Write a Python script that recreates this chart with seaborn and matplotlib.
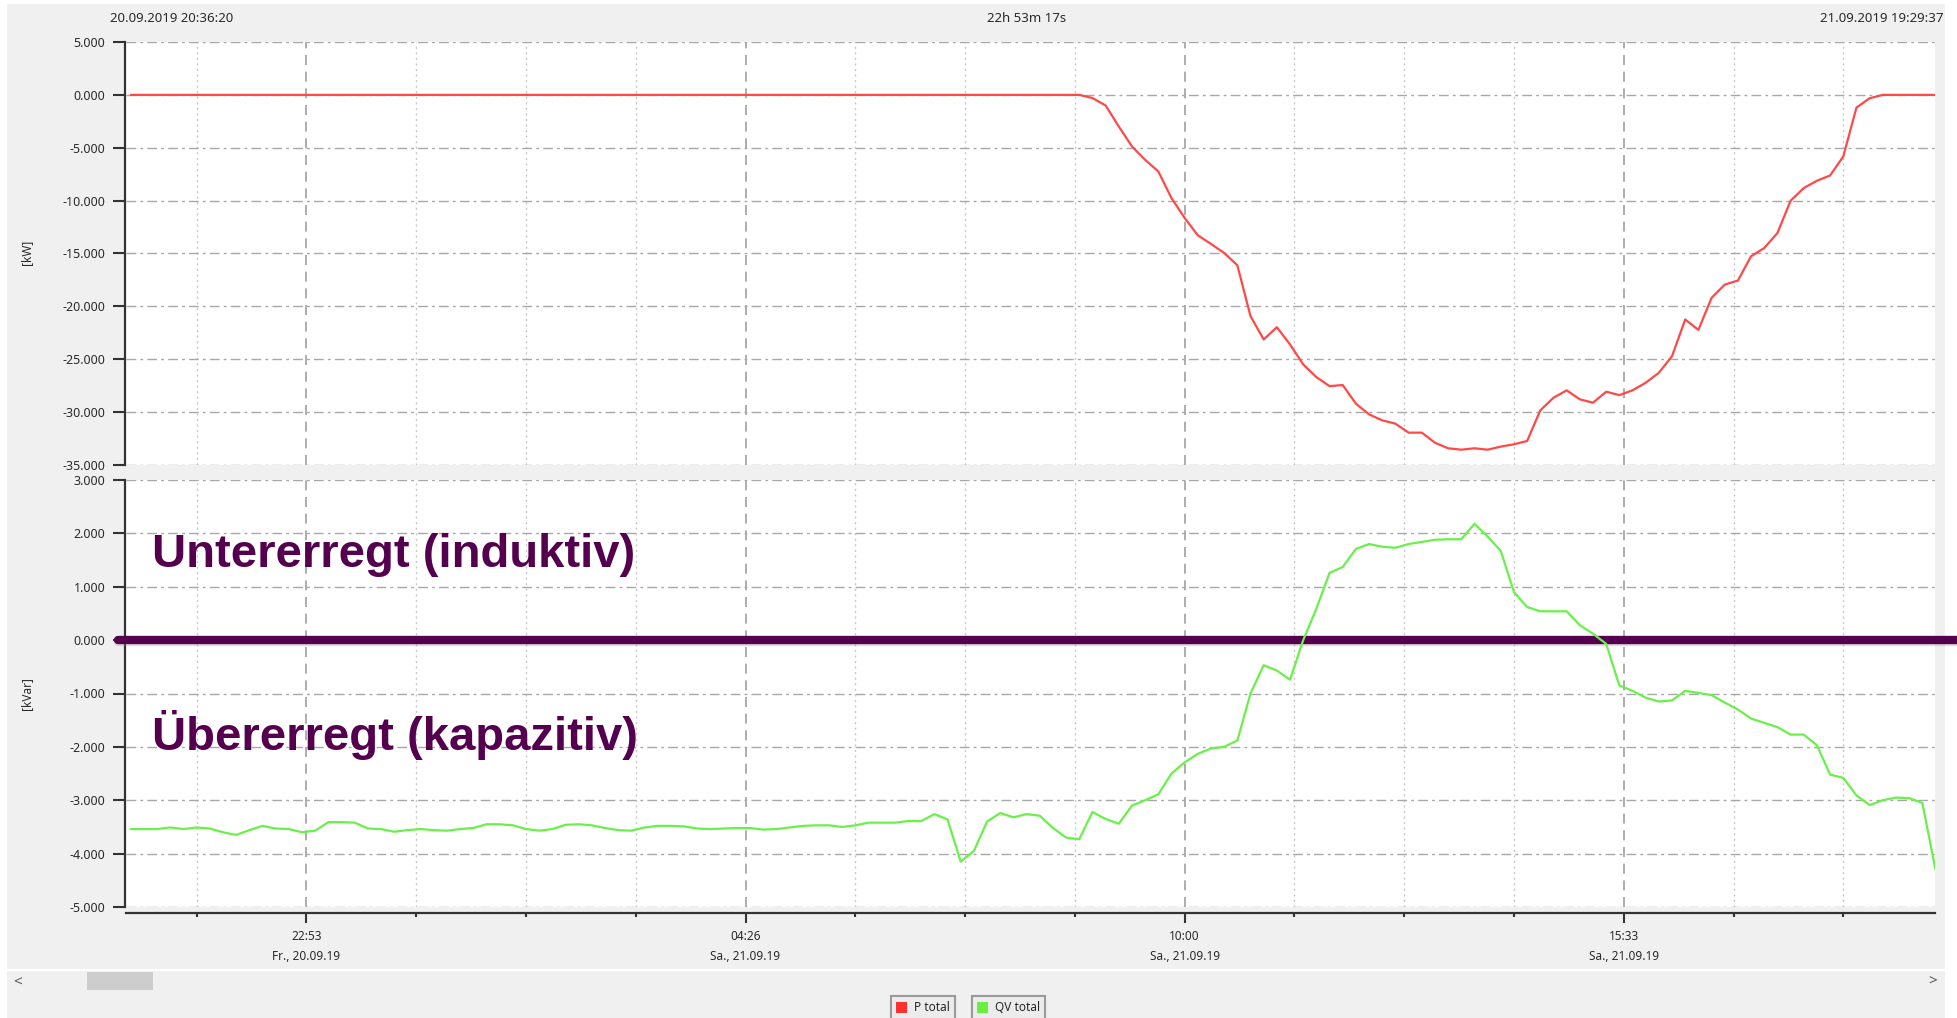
import matplotlib
matplotlib.use("Agg")
import matplotlib.pyplot as plt
import matplotlib.dates as mdates
import matplotlib.patheffects as pe
from matplotlib.patches import Patch, Rectangle
from matplotlib.ticker import FuncFormatter
import pandas as pd
import seaborn as sns

# 10-minute samples from 20:40 (Fr.) to 19:30 (Sa.)
times = pd.date_range("2019-09-20 20:40", periods=138, freq="10min")

# active power P total [kW]
p_total = [
    0.0, 0.0, 0.0, 0.0, 0.0, 0.0, 0.0, 0.0, 0.0, 0.0,
    0.0, 0.0, 0.0, 0.0, 0.0, 0.0, 0.0, 0.0, 0.0, 0.0,
    0.0, 0.0, 0.0, 0.0, 0.0, 0.0, 0.0, 0.0, 0.0, 0.0,
    0.0, 0.0, 0.0, 0.0, 0.0, 0.0, 0.0, 0.0, 0.0, 0.0,
    0.0, 0.0, 0.0, 0.0, 0.0, 0.0, 0.0, 0.0, 0.0, 0.0,
    0.0, 0.0, 0.0, 0.0, 0.0, 0.0, 0.0, 0.0, 0.0, 0.0,
    0.0, 0.0, 0.0, 0.0, 0.0, 0.0, 0.0, 0.0, 0.0, 0.0,
    0.0, 0.0, 0.0, -0.30, -1.00, -2.99, -4.88, -6.14, -7.24, -9.76,
    -11.64, -13.28, -14.10, -14.95, -16.11, -20.93, -23.13, -21.97, -23.60, -25.49,
    -26.69, -27.54, -27.44, -29.20, -30.21, -30.78, -31.09, -31.94, -31.94, -32.89,
    -33.42, -33.55, -33.42, -33.55, -33.26, -33.04, -32.73, -29.83, -28.64, -27.94,
    -28.79, -29.11, -28.07, -28.39, -27.94, -27.22, -26.28, -24.70, -21.24, -22.22,
    -19.20, -17.94, -17.56, -15.26, -14.48, -13.06, -10.01, -8.81, -8.12, -7.62,
    -5.82, -1.20, -0.32, 0.0, 0.0, 0.0, 0.0, 0.0,
]

# reactive power QV total [kVar]
qv_total = [
    -3.54, -3.54, -3.54, -3.51, -3.54, -3.51, -3.53, -3.60, -3.65, -3.56,
    -3.48, -3.53, -3.54, -3.60, -3.57, -3.41, -3.41, -3.42, -3.53, -3.54,
    -3.59, -3.56, -3.54, -3.56, -3.57, -3.54, -3.52, -3.45, -3.45, -3.47,
    -3.54, -3.57, -3.54, -3.46, -3.45, -3.47, -3.52, -3.56, -3.57, -3.51,
    -3.48, -3.48, -3.49, -3.53, -3.54, -3.53, -3.52, -3.52, -3.55, -3.54,
    -3.51, -3.48, -3.47, -3.47, -3.50, -3.47, -3.42, -3.42, -3.42, -3.39,
    -3.39, -3.26, -3.36, -4.15, -3.95, -3.40, -3.24, -3.32, -3.26, -3.29,
    -3.52, -3.70, -3.73, -3.22, -3.35, -3.44, -3.10, -3.00, -2.89, -2.50,
    -2.29, -2.13, -2.03, -2.00, -1.88, -1.00, -0.47, -0.57, -0.74, 0.00,
    0.59, 1.26, 1.37, 1.71, 1.80, 1.75, 1.73, 1.80, 1.84, 1.88,
    1.89, 1.89, 2.18, 1.94, 1.67, 0.90, 0.62, 0.54, 0.54, 0.54,
    0.28, 0.12, -0.07, -0.85, -0.95, -1.08, -1.15, -1.13, -0.95, -0.99,
    -1.03, -1.17, -1.30, -1.47, -1.55, -1.63, -1.77, -1.77, -1.97, -2.52,
    -2.58, -2.91, -3.09, -3.00, -2.95, -2.96, -3.05, -4.30,
]

t_start = "2019-09-20 20:36:20"
t_end = "2019-09-21 19:29:37"
major_times = ["2019-09-20 22:53:20", "2019-09-21 04:26:40",
               "2019-09-21 10:00:00", "2019-09-21 15:33:20"]
major_labels = ["22:53\nFr., 20.09.19", "04:26\nSa., 21.09.19",
                "10:00\nSa., 21.09.19", "15:33\nSa., 21.09.19"]
minor_times = ["2019-09-20 21:30:00", "2019-09-21 00:16:40", "2019-09-21 01:40:00",
               "2019-09-21 03:03:20", "2019-09-21 05:50:00", "2019-09-21 07:13:20",
               "2019-09-21 08:36:40", "2019-09-21 11:23:20", "2019-09-21 12:46:40",
               "2019-09-21 14:10:00", "2019-09-21 16:56:40", "2019-09-21 18:20:00"]
p_ticks = [5, 0, -5, -10, -15, -20, -25, -30, -35]
q_ticks = [3, 2, 1, 0, -1, -2, -3, -4, -5]

df = pd.DataFrame({"time": times, "P total": p_total, "QV total": qv_total})

sns.set_theme(style="white")
plt.rcParams["font.family"] = ["Noto Sans", "DejaVu Sans"]

W, H = 1957, 1018
fig = plt.figure(figsize=(W / 100, H / 100), dpi=100, facecolor="white")
fig.patches.append(Rectangle((7 / W, 0), 1938 / W, 1014 / H, transform=fig.transFigure,
                             facecolor="#f0f0f0", edgecolor="none", zorder=-10))

ax1 = fig.add_axes([126 / W, 1 - 465 / H, 1809 / W, 423 / H])
ax2 = fig.add_axes([126 / W, 1 - 907 / H, 1809 / W, 427 / H])

sns.lineplot(data=df, x="time", y="P total", ax=ax1, color="#ff4848", linewidth=1.6, zorder=4)
sns.lineplot(data=df, x="time", y="QV total", ax=ax2, color="#6af04a", linewidth=1.6, zorder=4)

tick_col = "#333333"
for ax, ticks in ((ax1, p_ticks), (ax2, q_ticks)):
    ax.set_facecolor("white")
    ax.set_xlim(pd.Timestamp(t_start), pd.Timestamp(t_end))
    ax.set_ylim(min(ticks), max(ticks))
    ax.set_yticks(ticks)
    ax.yaxis.set_major_formatter(FuncFormatter(lambda v, _: f"{v:.3f}"))
    ax.set_xticks(mdates.date2num(pd.to_datetime(major_times)))
    ax.set_xticks(mdates.date2num(pd.to_datetime(minor_times)), minor=True)
    ax.set_xlabel("")
    ax.set_ylabel("")
    ax.set_axisbelow(True)
    ax.grid(axis="y", which="major", linestyle=(0, (7, 3, 2, 3)), color="#a8a8a8", linewidth=1)
    ax.grid(axis="x", which="major", linestyle=(0, (6, 4)), color="#a0a0a0", linewidth=1.2)
    ax.grid(axis="x", which="minor", linestyle=(0, (1.5, 2.5)), color="#c8c8c8", linewidth=1)
    for s in ("top", "right", "bottom"):
        ax.spines[s].set_visible(False)
    ax.spines["left"].set_color(tick_col)
    ax.spines["left"].set_linewidth(1.6)
    ax.spines["left"].set_position(("outward", 1))
    ax.tick_params(axis="y", direction="out", length=9, width=1.5, color=tick_col,
                   labelsize=9, labelcolor="#2a2a2a", pad=5, left=True)

ax1.set_xticklabels([])
ax1.tick_params(axis="x", which="both", length=0, labelbottom=False)

ax2.spines["bottom"].set_visible(True)
ax2.spines["bottom"].set_color(tick_col)
ax2.spines["bottom"].set_linewidth(1.6)
ax2.spines["bottom"].set_position(("outward", 4))
ax2.set_xticklabels(major_labels)
ax2.tick_params(axis="x", which="major", direction="out", length=7.5, width=1.5,
                color=tick_col, labelsize=8.5, labelcolor="#2a2a2a", pad=5, bottom=True)
ax2.tick_params(axis="x", which="minor", direction="out", length=3, width=1.5,
                color=tick_col, bottom=True)
plt.setp(ax2.get_xticklabels(), linespacing=1.7)

# boundary between under- and over-excited operation
purple = "#55004f"
ax2.axhline(0, xmin=-8 / 1809, xmax=1831 / 1809, color=purple, linewidth=6, clip_on=False,
            zorder=3, path_effects=[pe.SimpleLineShadow(offset=(0, -1.5), shadow_color="#909090",
                                                        alpha=0.3), pe.Normal()])
ax2.text(0.0144, 0.796, "Untererregt (induktiv)", transform=ax2.transAxes, va="baseline",
         ha="left", fontsize=34, fontweight="bold", color=purple, family="Liberation Sans")
ax2.text(0.0144, 0.368, "Übererregt (kapazitiv)", transform=ax2.transAxes, va="baseline",
         ha="left", fontsize=34, fontweight="bold", color=purple, family="Liberation Sans")

# header and axis units
fig.text(110 / W, 1 - 19 / H, "20.09.2019 20:36:20", fontsize=9.5, color="#2a2a2a", va="center")
fig.text(1027 / W, 1 - 19 / H, "22h 53m 17s", fontsize=9.5, color="#2a2a2a", va="center", ha="center")
fig.text(1943 / W, 1 - 19 / H, "21.09.2019 19:29:37", fontsize=9.5, color="#2a2a2a", va="center", ha="right")
fig.text(27 / W, 1 - 252 / H, "[kW]", fontsize=8.5, rotation=90, va="center", ha="center", color="#2a2a2a")
fig.text(27 / W, 1 - 694 / H, "[kVar]", fontsize=8.5, rotation=90, va="center", ha="center", color="#2a2a2a")

# scroll bar
fig.add_artist(plt.Line2D([7 / W, 1945 / W], [1 - 970 / H, 1 - 970 / H], color="white", linewidth=1.5))
fig.patches.append(Rectangle((87 / W, 1 - 990 / H), 66 / W, 18 / H, transform=fig.transFigure,
                             facecolor="#cdcdcd", edgecolor="none"))
fig.text(18 / W, 1 - 983 / H, "<", fontsize=11, fontweight="bold", color="#555555", va="center", ha="center")
fig.text(1933 / W, 1 - 982 / H, ">", fontsize=11, fontweight="bold", color="#555555", va="center", ha="center")

# legend boxes
for x0, label, col in ((891, "P total", "#ff3030"), (972, "QV total", "#66f040")):
    leg = fig.legend(handles=[Patch(facecolor=col, edgecolor="none", label=label)],
                     loc="upper left", bbox_to_anchor=(x0 / W, 1 - 996 / H), fontsize=8.5,
                     frameon=True, fancybox=False, edgecolor="#9a9a9a", facecolor="#ececec",
                     framealpha=1, handlelength=0.9, handleheight=1.0, handletextpad=0.6,
                     borderpad=0.45, borderaxespad=0)
    leg.get_frame().set_linewidth(1.5)
    fig.add_artist(leg)

fig.savefig("out.png", dpi=100)
